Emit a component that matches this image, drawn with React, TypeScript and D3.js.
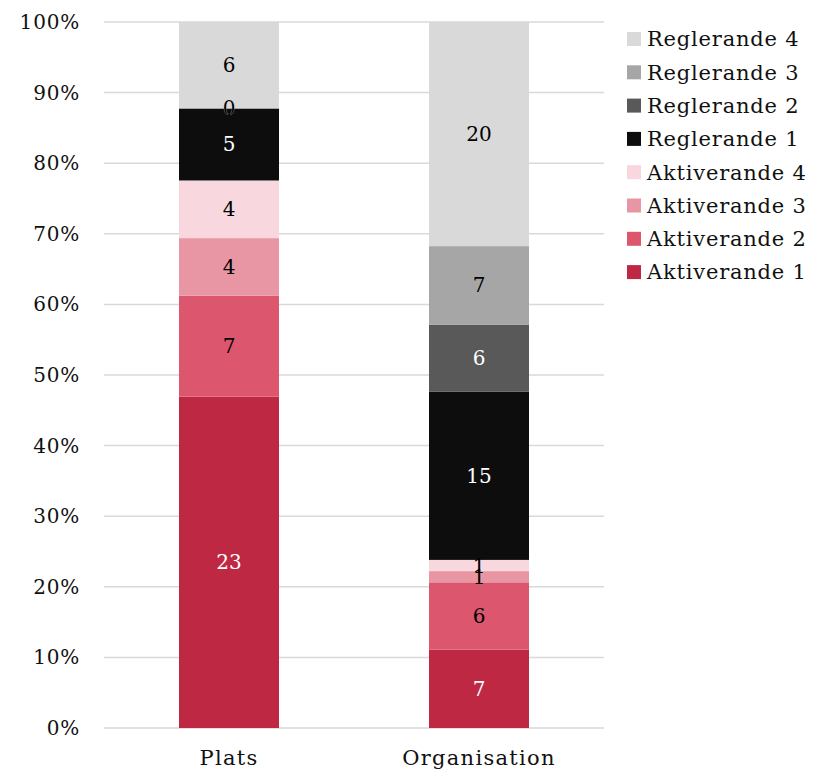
import React, { useEffect, useRef } from "react";
import * as d3 from "d3";

const categories = ["Plats", "Organisation"];
const seriesNames = [
	"Aktiverande 1",
	"Aktiverande 2",
	"Aktiverande 3",
	"Aktiverande 4",
	"Reglerande 1",
	"Reglerande 2",
	"Reglerande 3",
	"Reglerande 4",
];
const platsValues = [23, 7, 4, 4, 5, 0, 0, 6];
const organisationValues = [7, 6, 1, 1, 15, 6, 7, 20];
const seriesColors = [
	"#be2842",
	"#dc566d",
	"#e996a4",
	"#f8d7de",
	"#0d0d0d",
	"#595959",
	"#a6a6a6",
	"#d9d9d9",
];
const labelColors = ["#fff", "#000", "#000", "#000", "#fff", "#fff", "#000", "#000"];
const yTicks = [0, 0.1, 0.2, 0.3, 0.4, 0.5, 0.6, 0.7, 0.8, 0.9, 1];

const FONT = "Georgia, 'DejaVu Serif', serif";

const App: React.FC = () => {
	const svgRef = useRef<SVGSVGElement | null>(null);

	useEffect(() => {
		const svg = d3.select(svgRef.current);
		svg.selectAll("*").remove();

		const left = 104;
		const right = 604;
		const top = 22;
		const bottom = 728;

		const x = d3
			.scaleBand()
			.domain(categories)
			.range([left, right])
			.paddingInner(0.6)
			.paddingOuter(0.3);
		const y = d3.scaleLinear().domain([0, 1]).range([bottom, top]);

		// gridlines
		svg.append("g")
			.selectAll("line")
			.data(yTicks)
			.enter()
			.append("line")
			.attr("x1", left)
			.attr("x2", right)
			.attr("y1", (d) => y(d))
			.attr("y2", (d) => y(d))
			.attr("stroke", "#d9d9d9")
			.attr("stroke-width", 1.5);

		svg.append("g")
			.selectAll("text")
			.data(yTicks)
			.enter()
			.append("text")
			.attr("x", 80)
			.attr("y", (d) => y(d))
			.attr("dy", "0.35em")
			.attr("text-anchor", "end")
			.attr("font-family", FONT)
			.attr("font-size", 20)
			.attr("letter-spacing", 0.8)
			.attr("fill", "#111")
			.text((d) => d3.format(".0%")(d));

		const rows = [platsValues, organisationValues];
		const data = categories.map((c, ci) => {
			const total = d3.sum(rows[ci]);
			let acc = 0;
			return seriesNames.map((s, si) => {
				const v = rows[ci][si];
				const y0 = acc / total;
				acc += v;
				return { cat: c, si, v, y0, y1: acc / total };
			});
		});

		const bars = svg.append("g");
		data.forEach((col) => {
			bars.selectAll(null)
				.data(col)
				.enter()
				.append("rect")
				.attr("x", (d) => x(d.cat)!)
				.attr("width", x.bandwidth())
				.attr("y", (d) => y(d.y1))
				.attr("height", (d) => y(d.y0) - y(d.y1))
				.attr("fill", (d) => seriesColors[d.si]);
		});
		data.forEach((col) => {
			bars.selectAll(null)
				.data(col)
				.enter()
				.append("text")
				.attr("x", (d) => x(d.cat)! + x.bandwidth() / 2)
				.attr("y", (d) => y((d.y0 + d.y1) / 2))
				.attr("dy", "0.35em")
				.attr("text-anchor", "middle")
				.attr("font-family", FONT)
				.attr("font-size", 20)
				.attr("fill", (d) => labelColors[d.si])
				.text((d) => d.v);
		});

		svg.append("g")
			.selectAll("text")
			.data(categories)
			.enter()
			.append("text")
			.attr("x", (d) => x(d)! + x.bandwidth() / 2)
			.attr("y", 765)
			.attr("text-anchor", "middle")
			.attr("font-family", FONT)
			.attr("font-size", 21)
			.attr("letter-spacing", 1.3)
			.attr("fill", "#111")
			.text((d) => d);

		// legend, reversed order
		const legendItems = seriesNames.map((s, i) => ({ s, i })).reverse();
		const lg = svg.append("g");
		legendItems.forEach((d, k) => {
			const cy = 39 + k * 33.3;
			lg.append("rect")
				.attr("x", 627)
				.attr("y", cy - 7)
				.attr("width", 14)
				.attr("height", 14)
				.attr("fill", seriesColors[d.i]);
			lg.append("text")
				.attr("x", 647)
				.attr("y", cy)
				.attr("dy", "0.35em")
				.attr("font-family", FONT)
				.attr("font-size", 21)
				.attr("letter-spacing", 0.8)
				.attr("fill", "#111")
				.text(d.s);
		});
	}, []);

	return (
		<svg
			ref={svgRef}
			width={817}
			height={774}
			style={{ position: "absolute", left: 0, top: 0 }}
		></svg>
	);
};

export default App;
